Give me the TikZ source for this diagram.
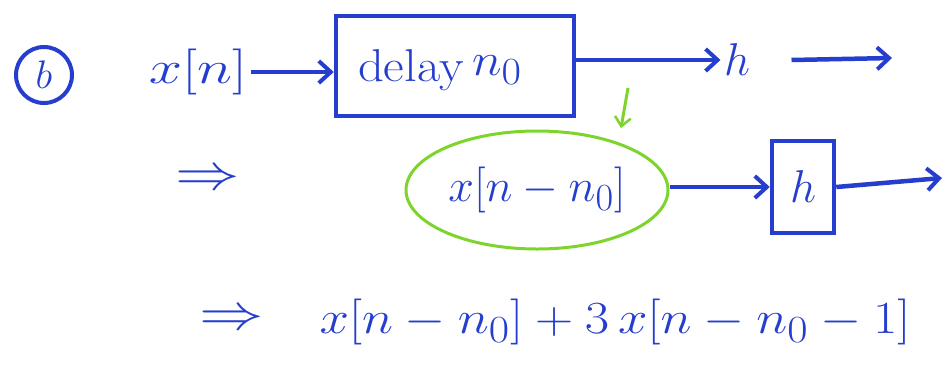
\documentclass[tikz,border=0pt]{standalone}
\usepackage{graphicx}
\usetikzlibrary{arrows.meta,shapes.geometric}
\definecolor{ink}{RGB}{38,62,205}
\definecolor{hl}{RGB}{125,212,45}
\newcommand{\hwr}[1]{\scalebox{1.85}{\fontsize{24.88}{28}\selectfont #1}}
\begin{document}
\begin{tikzpicture}[x=1pt,y=-1pt,
  hand/.style={text=ink},
  wire/.style={draw=ink,line width=4.5pt,-{Straight Barb[length=12pt,width=22pt,line width=4pt]}},
  blk/.style={draw=ink,line width=4.5pt,rectangle,inner sep=0pt}]
\useasboundingbox (0,0) rectangle (945,365);
% label (b)
\node[draw=ink,line width=4pt,circle,minimum size=56pt,inner sep=0pt,hand] (lab) at (44,75) {\scalebox{1.6}{\fontsize{24.88}{28}\selectfont$b$}};
% row 1
\node[hand] (xn) at (198,72) {\scalebox{1.3}[1]{\hwr{$x[n]$}}};
\node[blk,minimum width=238pt,minimum height=100pt] (delay) at (455,66) {};
\node[hand] (dtxt) at (440,70) {\scalebox{1.1}[1]{\hwr{delay\,\raisebox{3pt}{$n_0$}}}};
\node[hand] (h1) at (737,60) {\hwr{$h$}};
\coordinate (e1) at (892,58);
\draw[wire] (xn.east) -- (delay.west |- xn.east);
\draw[wire] (delay.east |- h1) -- (h1.west);
\draw[wire] ([xshift=38pt]h1.east) -- (e1);
% row 2
\node[hand] (imp1) at (208,180) {\scalebox{1.4}[1.1]{\hwr{$\Rightarrow$}}};
\node[draw=hl,line width=3pt,ellipse,minimum width=262pt,minimum height=118pt,hand,inner sep=0pt] (xd) at (537,190) {\hwr{$x[n-n_0]$}};
\coordinate (g0) at (628,88);
\draw[draw=hl,line width=3pt,-{Straight Barb[length=9pt,width=16pt,line width=2.5pt]}] (g0) -- (621,128);
\node[blk,minimum width=62pt,minimum height=92pt,hand] (h2) at (803,187) {\hwr{$h$}};
\coordinate (e2) at (942,178);
\draw[wire] (xd.east |- h2.west) -- (h2.west);
\draw[wire] (h2.east) -- (e2);
% row 3
\node[hand] (imp2) at (232,320) {\scalebox{1.4}[1.1]{\hwr{$\Rightarrow$}}};
\node[hand,anchor=west] (res) at (316,322) {\scalebox{1.15}[1]{\hwr{$x[n-n_0]+3\,x[n-n_0-1]$}}};
\end{tikzpicture}
\end{document}
